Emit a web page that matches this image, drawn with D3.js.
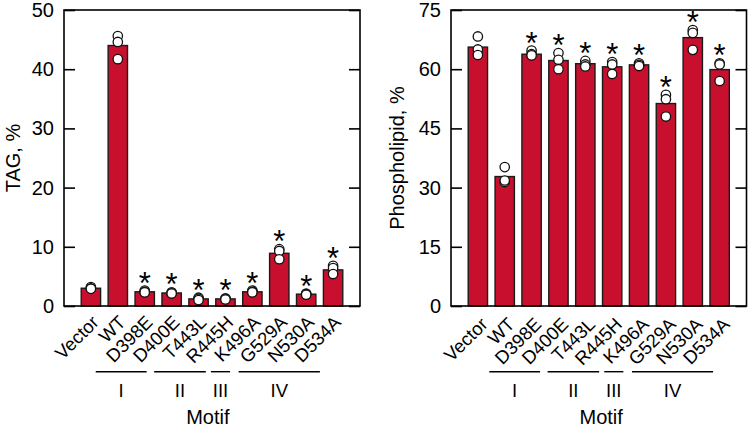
<!DOCTYPE html>
<html>
<head>
<meta charset="utf-8">
<script src="https://cdn.jsdelivr.net/npm/d3@7"></script>
<style>
  body { margin: 0; background: #fff; }
  svg { display: block; font-family: "Liberation Sans", Arial, sans-serif; }
</style>
</head>
<body>
<div id="chart"></div>
<script>
// ---- data ----
const categories = ["Vector", "WT", "D398E", "D400E", "T443L", "R445H", "K496A", "G529A", "N530A", "D534A"];

const tagMean = [3.0, 44.0, 2.4, 2.2, 1.2, 1.2, 2.4, 8.9, 2.0, 6.1];
const tagReps = [
    [3.2, 3.0, 2.9], [45.6, 44.6, 41.7], [2.6, 2.4, 2.3], [2.3, 2.2, 2.1], [1.4, 1.2, 1.0],
    [1.3, 1.2, 1.1], [2.6, 2.4, 2.3], [9.6, 9.3, 7.9], [2.1, 2.0, 1.9], [6.8, 6.4, 5.4]
];
const tagSig = [false, false, true, true, true, true, true, true, true, true];
const tagTicks = [0, 10, 20, 30, 40, 50];

const plMean = [65.6, 32.8, 63.8, 62.2, 61.4, 60.6, 61.1, 51.3, 68.0, 59.9];
const plReps = [
    [68.3, 65.0, 63.6], [35.2, 31.4, 31.8], [64.7, 63.8, 63.5], [64.1, 62.4, 60.0], [62.1, 61.2, 60.7],
    [61.8, 58.8, 61.2], [61.5, 61.1, 60.8], [53.5, 52.4, 48.0], [69.9, 69.2, 64.9], [61.5, 61.2, 57.0]
];
const plSig = [false, false, true, true, true, true, true, true, true, true];
const plTicks = [0, 15, 30, 45, 60, 75];

// motif groups, as spans over the category index (hand drawn in the original)
const motifNames = ["I", "II", "III", "IV"];
const motifFrom = [0.18, 2.35, 4.46, 5.49];
const motifTo = [2.07, 4.27, 5.17, 8.51];

// ---- layout ----
const width = 748, height = 431;
const plotTop = 10, plotBottom = 306;
const barColor = "#c8102e";

const svg = d3.select("#chart").append("svg")
    .attr("width", width)
    .attr("height", height);

function panel(opts) {
    const { x0, x1, means, reps, sig, ticks, title, titleX, labelShift, lineShift } = opts;

    const xIdx = d3.scaleLinear().domain([-1, categories.length]).range([x0, x1]);
    const step = xIdx(1) - xIdx(0);
    const barW = step * 0.72;
    const y = d3.scaleLinear().domain([0, ticks[ticks.length - 1]]).range([plotBottom, plotTop]);

    const g = svg.append("g");

    // bars
    g.append("g")
        .selectAll("rect")
        .data(means)
        .join("rect")
        .attr("x", (d, i) => xIdx(i) - barW / 2)
        .attr("width", barW)
        .attr("y", d => y(d))
        .attr("height", d => y(0) - y(d))
        .attr("fill", barColor)
        .attr("stroke", "#1a1a1a")
        .attr("stroke-width", 1.4);

    // replicate points
    const pts = [];
    reps.forEach((r, i) => r.forEach(v => pts.push({ i, v })));
    g.append("g")
        .selectAll("circle")
        .data(pts)
        .join("circle")
        .attr("cx", d => xIdx(d.i))
        .attr("cy", d => y(d.v))
        .attr("r", 4.7)
        .attr("fill", "#fff")
        .attr("stroke", "#111")
        .attr("stroke-width", 1.3);

    // asterisks
    g.append("g")
        .selectAll("text")
        .data(means.map((m, i) => ({ i, top: Math.max(m, d3.max(reps[i])), s: sig[i] })).filter(d => d.s))
        .join("text")
        .attr("x", d => xIdx(d.i))
        .attr("y", d => y(d.top) - 15 + 18)
        .attr("text-anchor", "middle")
        .style("font-size", "31px")
        .text("*");

    // left axis, inward ticks
    const axL = g.append("g")
        .attr("transform", `translate(${x0},0)`)
        .call(d3.axisLeft(y).tickValues(ticks).tickSize(-11).tickPadding(10).tickSizeOuter(0));
    axL.select(".domain").remove();
    axL.selectAll("line").attr("stroke", "#000").attr("stroke-width", 1.6);
    axL.selectAll("text").style("font-size", "20px").attr("fill", "#000");

    // right axis, inward ticks, no labels
    const axR = g.append("g")
        .attr("transform", `translate(${x1},0)`)
        .call(d3.axisRight(y).tickValues(ticks).tickSize(-11).tickFormat("").tickSizeOuter(0));
    axR.select(".domain").remove();
    axR.selectAll("line").attr("stroke", "#000").attr("stroke-width", 1.6);

    // frame
    g.append("rect")
        .attr("x", x0).attr("y", plotTop)
        .attr("width", x1 - x0).attr("height", plotBottom - plotTop)
        .attr("fill", "none")
        .attr("stroke", "#000")
        .attr("stroke-width", 1.6);

    // category labels
    g.append("g")
        .selectAll("text")
        .data(categories)
        .join("text")
        .attr("transform", (d, i) => `translate(${xIdx(i) + 9 + labelShift},${plotBottom + 17.5 + labelShift}) rotate(-45)`)
        .attr("text-anchor", "end")
        .style("font-size", "18.5px")
        .text(d => d);

    // motif group lines + names
    const lineY = 371.7;
    const mg = g.append("g");
    motifNames.forEach((name, k) => {
        const a = xIdx(motifFrom[k]) + lineShift;
        const b = xIdx(motifTo[k]) + lineShift;
        mg.append("line")
            .attr("x1", a).attr("x2", b)
            .attr("y1", lineY).attr("y2", lineY)
            .attr("stroke", "#000")
            .attr("stroke-width", 1.4);
        mg.append("text")
            .attr("x", (a + b) / 2)
            .attr("y", 396.7)
            .attr("text-anchor", "middle")
            .style("font-size", "18.5px")
            .text(name);
    });
    const mA = xIdx(motifFrom[0]) + lineShift;
    const mB = xIdx(motifTo[motifTo.length - 1]) + lineShift;
    g.append("text")
        .attr("x", (mA + mB) / 2)
        .attr("y", 423.5)
        .attr("text-anchor", "middle")
        .style("font-size", "20px")
        .text("Motif");

    // y title
    g.append("text")
        .attr("transform", `translate(${titleX},${(plotTop + plotBottom) / 2}) rotate(-90)`)
        .attr("text-anchor", "middle")
        .style("font-size", "20px")
        .text(title);
}

panel({
    x0: 64, x1: 360, means: tagMean, reps: tagReps, sig: tagSig, ticks: tagTicks,
    title: "TAG, %", titleX: 19.5, labelShift: 0, lineShift: 0
});
panel({
    x0: 451, x1: 746.5, means: plMean, reps: plReps, sig: plSig, ticks: plTicks,
    title: "Phospholipid, %", titleX: 404, labelShift: 2, lineShift: 6.6
});
</script>
</body>
</html>
